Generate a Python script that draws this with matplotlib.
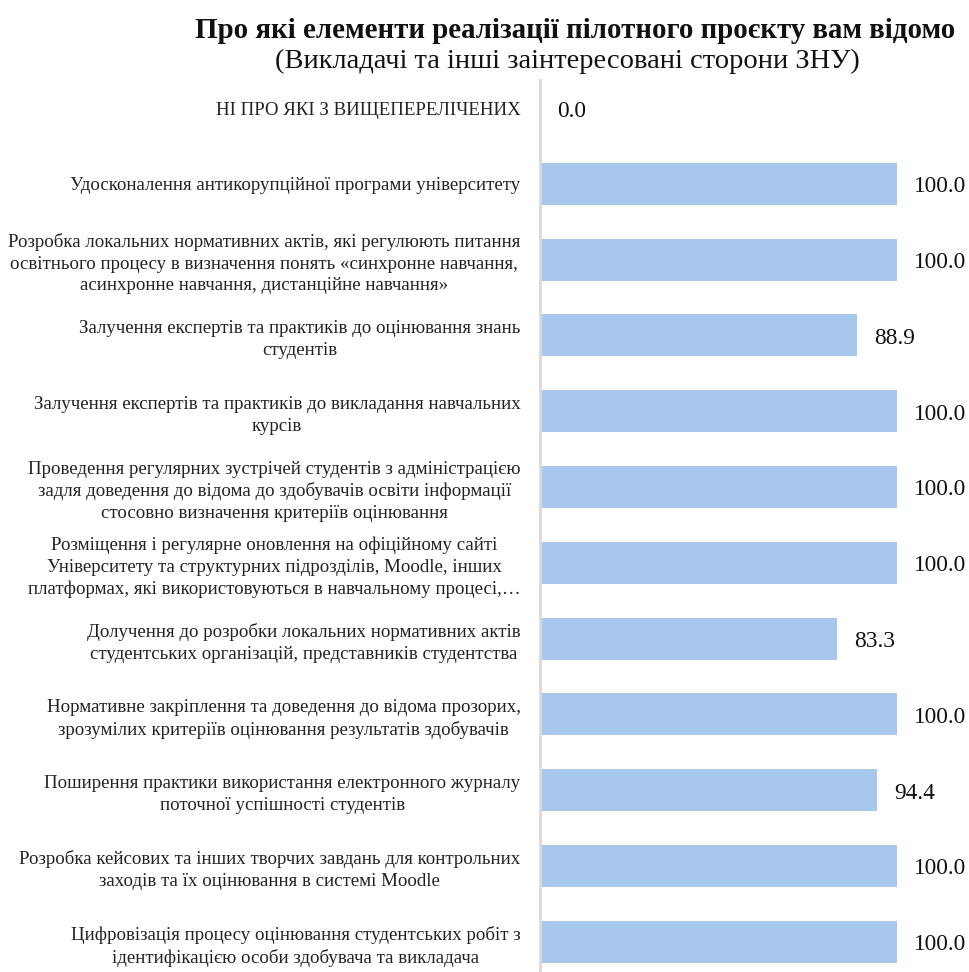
import matplotlib
matplotlib.use("Agg")
import matplotlib.pyplot as plt

categories = [
    "НІ ПРО ЯКІ З ВИЩЕПЕРЕЛІЧЕНИХ",
    "Удосконалення антикорупційної програми університету",
    "Розробка локальних нормативних актів, які регулюють питання\nосвітнього процесу в визначення понять «синхронне навчання,\nасинхронне навчання, дистанційне навчання»",
    "Залучення експертів та практиків до оцінювання знань\nстудентів",
    "Залучення експертів та практиків до викладання навчальних\nкурсів",
    "Проведення регулярних зустрічей студентів з адміністрацією\nзадля доведення до відома до здобувачів освіти інформації\nстосовно визначення критеріїв оцінювання",
    "Розміщення і регулярне оновлення на офіційному сайті\nУніверситету та структурних підрозділів, Moodle, інших\nплатформах, які використовуються в навчальному процесі,…",
    "Долучення до розробки локальних нормативних актів\nстудентських організацій, представників студентства",
    "Нормативне закріплення та доведення до відома прозорих,\nзрозумілих критеріїв оцінювання результатів здобувачів",
    "Поширення практики використання електронного журналу\nпоточної успішності студентів",
    "Розробка кейсових та інших творчих завдань для контрольних\nзаходів та їх оцінювання в системі Moodle",
    "Цифровізація процесу оцінювання студентських робіт з\nідентифікацією особи здобувача та викладача",
]
values = [0.0, 100.0, 100.0, 88.9, 100.0, 100.0, 100.0, 83.3, 100.0, 94.4, 100.0, 100.0]

title = "Про які елементи реалізації пілотного проєкту вам відомо"
subtitle = "(Викладачі та інші заінтересовані сторони ЗНУ)"

plt.rcParams['font.family'] = ['Liberation Serif', 'DejaVu Serif']

W, H = 969, 972
fig = plt.figure(figsize=(W / 100, H / 100), dpi=100)
ax_left, ax_right = 540 / W, 897 / W
ax_top, ax_bottom = 1 - 80 / H, 0.0
ax = fig.add_axes([ax_left, ax_bottom, ax_right - ax_left, ax_top - ax_bottom])

n = len(categories)
ypos = [n - 1 - i for i in range(n)]
ax.barh(ypos, values, height=0.555, color="#A7C7ED", zorder=2)

ax.set_xlim(0, 100)
ax.set_ylim(-0.40, n - 1 + 0.37)
ax.set_yticks(ypos)
ax.set_yticklabels(categories, fontsize=13.6, multialignment="center", linespacing=1.35)
ax.tick_params(axis="y", length=0, pad=14, colors="#222222")
ax.tick_params(axis="x", bottom=False, labelbottom=False)
for s in ["top", "right", "bottom"]:
    ax.spines[s].set_visible(False)
ax.spines["left"].set_color("#D9D9D9")
ax.spines["left"].set_linewidth(2)

for y, v in zip(ypos, values):
    ax.annotate(f"{v:.1f}", xy=(v, y), xytext=(17, -3), textcoords="offset pixels",
                ha="left", va="center", fontsize=16.8, color="#111111", clip_on=False)

fig.text(575 / W, 1 - 30 / H, title, ha="center", va="center", fontsize=20.8,
         fontweight="bold", color="#111111")
fig.text(567 / W, 1 - 61 / H, subtitle, ha="center", va="center", fontsize=20.5,
         color="#111111")

fig.savefig("out.png", dpi=100, facecolor="white")
